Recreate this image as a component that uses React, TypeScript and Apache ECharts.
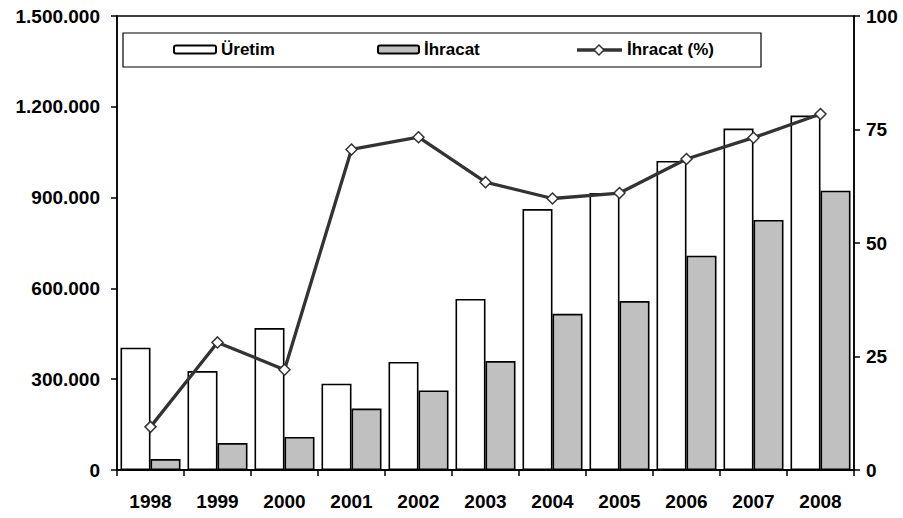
import React, { useEffect, useRef } from "react";
import * as echarts from "echarts";

const years = ["1998", "1999", "2000", "2001", "2002", "2003", "2004", "2005", "2006", "2007", "2008"];
const uretim = [404000, 327000, 469000, 285000, 357000, 565000, 862000, 915000, 1021000, 1128000, 1171000];
const ihracat = [36000, 89000, 109000, 203000, 263000, 360000, 516000, 558000, 708000, 826000, 923000];
const ihracatPct = [9.5, 28.1, 22.1, 70.6, 73.3, 63.4, 59.8, 61.0, 68.5, 73.2, 78.4];

const FONT = "'Liberation Sans', Arial, sans-serif";

function fmtThousands(v: number): string {
  return String(Math.round(v)).replace(/\B(?=(\d{3})+(?!\d))/g, ".");
}

export default function App() {
  const ref = useRef<HTMLDivElement>(null);
  useEffect(() => {
    if (!ref.current) return;
    const chart = echarts.init(ref.current, null, { renderer: "svg" });
    const labelStyle = { fontFamily: FONT, fontWeight: "bold" as const, fontSize: 19, color: "#000" };
    const legendText = { fontFamily: FONT, fontWeight: "bold" as const, fontSize: 17, color: "#000" };
    chart.setOption({
      animation: false,
      backgroundColor: "#fff",
      grid: {
        left: 117,
        right: 49,
        top: 16,
        bottom: 48,
        show: true,
        borderColor: "#000",
        borderWidth: 1.5,
        containLabel: false,
      },
      graphic: [
        {
          type: "rect",
          shape: { x: 123, y: 33, width: 638, height: 34 },
          style: { fill: "#fff", stroke: "#000", lineWidth: 1.2 },
          z: 1,
        },
        {
          type: "line",
          shape: { x1: 577, y1: 50, x2: 622, y2: 50 },
          style: { stroke: "#333", lineWidth: 3.3 },
          z: 20,
        },
        {
          type: "polygon",
          shape: { points: [[599, 45], [604, 50], [599, 55], [594, 50]] },
          style: { fill: "#fff", stroke: "#333", lineWidth: 1.5 },
          z: 21,
        },
      ],
      legend: [
        {
          data: ["Üretim"],
          left: 173,
          top: 41,
          itemWidth: 42,
          itemHeight: 8,
          itemGap: 0,
          padding: 0,
          textStyle: legendText,
          z: 10,
        },
        {
          data: ["İhracat"],
          left: 377,
          top: 41,
          itemWidth: 41,
          itemHeight: 8,
          itemGap: 0,
          padding: 0,
          textStyle: legendText,
          z: 10,
        },
        {
          data: [{ name: "İhracat (%)", icon: "none" }],
          left: 577,
          top: 41,
          itemWidth: 45,
          itemHeight: 10,
          itemGap: 0,
          padding: 0,
          textStyle: legendText,
          z: 10,
        },
      ],
      xAxis: {
        type: "category",
        data: years,
        boundaryGap: true,
        axisLine: { lineStyle: { color: "#000", width: 2 } },
        axisTick: { show: true, inside: false, length: 6, lineStyle: { color: "#000", width: 1.5 } },
        axisLabel: { ...labelStyle, margin: 22 },
        splitLine: { show: false },
      },
      yAxis: [
        {
          type: "value",
          min: 0,
          max: 1500000,
          interval: 300000,
          axisLine: { show: true, lineStyle: { color: "#000", width: 1.5 } },
          axisTick: { show: true, inside: false, length: 6, lineStyle: { color: "#000", width: 1.5 } },
          axisLabel: { ...labelStyle, margin: 17, formatter: (v: number) => fmtThousands(v) },
          splitLine: { show: false },
        },
        {
          type: "value",
          min: 0,
          max: 100,
          interval: 25,
          position: "right",
          axisLine: { show: true, lineStyle: { color: "#000", width: 1.5 } },
          axisTick: { show: true, inside: false, length: 6, lineStyle: { color: "#000", width: 1.5 } },
          axisLabel: { ...labelStyle, margin: 12 },
          splitLine: { show: false },
        },
      ],
      series: [
        {
          name: "Üretim",
          type: "bar",
          data: uretim,
          barWidth: 30,
          barGap: "0%",
          itemStyle: { color: "#fff", borderColor: "#000", borderWidth: 1.6 },
        },
        {
          name: "İhracat",
          type: "bar",
          data: ihracat,
          barWidth: 30,
          barGap: "0%",
          itemStyle: { color: "#c0c0c0", borderColor: "#000", borderWidth: 1.6 },
        },
        {
          name: "İhracat (%)",
          type: "line",
          yAxisIndex: 1,
          data: ihracatPct,
          symbol: "diamond",
          symbolSize: 11,
          lineStyle: { color: "#333", width: 3.3 },
          itemStyle: { color: "#fff", borderColor: "#333", borderWidth: 1.5 },
          z: 5,
        },
      ],
    });
    return () => chart.dispose();
  }, []);
  return (
    <div
      ref={ref}
      style={{ position: "fixed", left: 0, top: 0, width: 903, height: 518, background: "#fff" }}
    />
  );
}
